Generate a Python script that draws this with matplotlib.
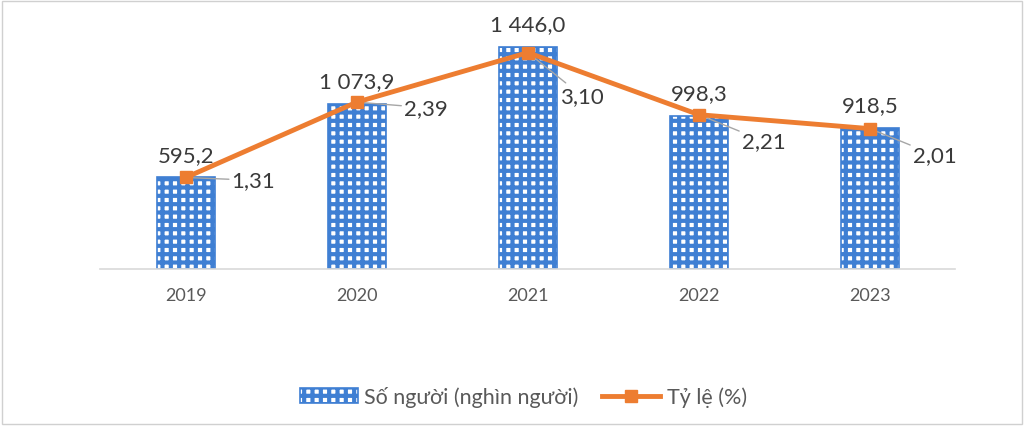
import matplotlib.pyplot as plt
from matplotlib.patches import Rectangle

years = ["2019", "2020", "2021", "2022", "2023"]
so_nguoi = [595.2, 1073.9, 1446.0, 998.3, 918.5]
ty_le = [1.31, 2.39, 3.10, 2.21, 2.01]

bar_label = "Số người (nghìn người)"
line_label = "Tỷ lệ (%)"

BLUE = "#3F7FD3"
ORANGE = "#ED7D31"
GREY = "#595959"

plt.rcParams["font.family"] = ["Lato", "DejaVu Sans"]
plt.rcParams["hatch.linewidth"] = 3.0


def vn_fmt(v, nd):
    s = f"{v:,.{nd}f}"
    return s.replace(",", " ").replace(".", ",")


fig = plt.figure(figsize=(10.24, 4.27), dpi=100)
ax = fig.add_axes([0.098, 0.368, 0.835, 0.562])
ax2 = ax.twinx()

x = list(range(len(years)))
bars = ax.bar(x, so_nguoi, width=0.34, color="white", edgecolor=BLUE,
              hatch="++", linewidth=1.2, zorder=2)

ax.set_xlim(-0.5, 4.5)
ax.set_ylim(0, 1563)
ax2.set_ylim(0, 3.44)

for xi, v in zip(x, so_nguoi):
    ax.annotate(vn_fmt(v, 1), (xi, v), xytext=(0, 9), textcoords="offset points",
                ha="center", va="bottom", fontsize=16, color="#3A3A3A",
                annotation_clip=False)

ax2.plot(x, ty_le, color=ORANGE, linewidth=3.5, marker="s", markersize=9,
         zorder=5)

# label offsets in points (dx, dy) for the rate labels
offs = [(33, -2), (34, -4), (23, -31), (31, -19), (31, -19)]
for xi, v, (dx, dy) in zip(x, ty_le, offs):
    ax2.annotate(vn_fmt(v, 2), (xi, v), xytext=(dx, dy), textcoords="offset points",
                 ha="left", va="center", fontsize=16, color="#3A3A3A",
                 arrowprops=dict(arrowstyle="-", color="#A6A6A6", lw=1,
                                 shrinkA=0, shrinkB=2))

ax.set_xticks(x)
ax.set_xticklabels(years, fontsize=13, color=GREY)
ax.tick_params(axis="x", length=0, pad=13)
ax.set_yticks([])
ax2.set_yticks([])
for a in (ax, ax2):
    for side in ("top", "left", "right"):
        a.spines[side].set_visible(False)
    a.spines["bottom"].set_color("#D9D9D9")
    a.spines["bottom"].set_linewidth(1.2)
ax2.spines["bottom"].set_visible(False)

handles = [bars, ax2.get_lines()[0]]
fig.legend(handles, [bar_label, line_label], loc="center",
           bbox_to_anchor=(0.511, 0.068), ncol=2, frameon=False, fontsize=15.5,
           labelcolor=GREY, handlelength=2.7, columnspacing=1.1,
           handletextpad=0.3)

fig.patches.append(Rectangle((0.002, 0.004), 0.996, 0.992, transform=fig.transFigure,
                             fill=False, edgecolor="#D0D0D0", linewidth=1))

fig.savefig("out.png", dpi=100)
